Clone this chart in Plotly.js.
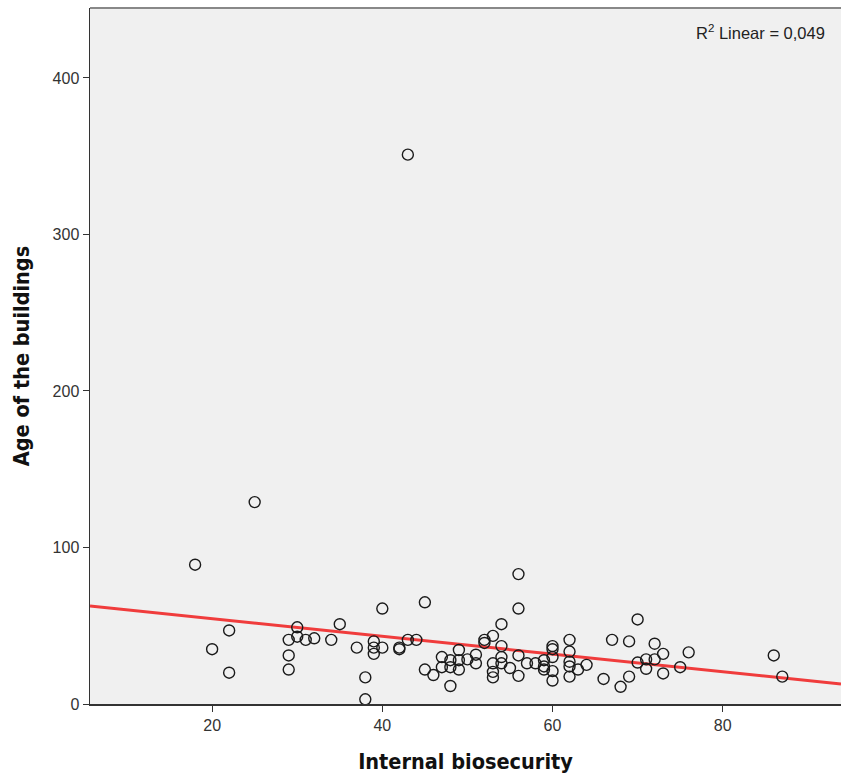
<!DOCTYPE html>
<html>
<head>
<meta charset="utf-8">
<script src="https://cdn.plot.ly/plotly-3.0.1.min.js"></script>
<style>html,body{margin:0;padding:0;background:#fff}#chart{width:841px;height:777px}</style>
</head>
<body>
<div id="chart"></div>
<script>
const biosecurity = [18,20,22,22,25,29,29,29,30,30,31,32,34,35,37,38,38,39,39,39,40,40,42,42,43,43,44,45,45,46,47,47,48,48,48,49,49,49,50,51,51,52,52,53,53,53,53,54,54,54,54,55,56,56,56,56,57,58,59,59,59,60,60,60,60,60,62,62,62,62,62,63,64,66,67,68,69,69,70,70,71,71,72,72,73,73,75,76,86,87];
const buildingAge = [89,35,47,20,129,41,31,22,49,43,41,42,41,51,36,17,3,40,36,32,36,61,36,35,41,351,41,65,22,18.5,30,23.5,11.5,28,23.5,34.5,28,22,28.5,31.5,26,41,39,43.5,26,20.5,17,51,37,30,26,23,83,61,31,18,26,26,28,24,22,37,35,30,21,15,41,33.5,27,24,17.5,22,25,16,41,11,40,17.5,54,26.5,28.5,22.5,38.5,28.5,32,19.5,23.5,33,31,17.5];
const fitX = [5.65, 93.9];
const fitY = [62.6, 12.8];
const xTicks = [20,40,60,80];
const yTicks = [0,100,200,300,400];
const r2Label = 'R<sup>2</sup> Linear = 0,049';

const titleFont = {family:'DejaVu Sans Condensed, DejaVu Sans, sans-serif', size:21.5, color:'#111', weight:'bold'};

const traces = [
  {x: fitX, y: fitY, type:'scatter', mode:'lines', line:{color:'#f03c3c', width:3}, hoverinfo:'skip'},
  {x: biosecurity, y: buildingAge, type:'scatter', mode:'markers',
   marker:{symbol:'circle-open', size:11, color:'#1a1a1a', line:{width:1.4, color:'#1a1a1a'}}}
];

const layout = {
  width:841, height:777,
  margin:{l:90, r:0, t:8, b:73},
  paper_bgcolor:'#ffffff', plot_bgcolor:'#f0f0f0',
  showlegend:false,
  font:{family:'Liberation Sans, Arial, sans-serif', color:'#333'},
  xaxis:{range:[5.65,93.9], tickvals:xTicks, ticktext:xTicks.map(String), showgrid:false, zeroline:false,
    showline:true, linecolor:'#333', linewidth:1.5, ticks:'outside', ticklen:6, tickcolor:'#333', tickwidth:1,
    tickfont:{size:16, color:'#333'},
    title:{text:'Internal biosecurity', standoff:21, font:titleFont}},
  yaxis:{range:[0,444.7], tickvals:yTicks, ticktext:yTicks.map(String), showgrid:false, zeroline:false,
    showline:true, linecolor:'#333', linewidth:1.5, ticks:'outside', ticklen:6, tickcolor:'#333', tickwidth:1,
    tickfont:{size:16, color:'#333'},
    title:{text:'Age of the buildings', standoff:17, font:titleFont}},
  shapes:[
    {type:'line', xref:'paper', yref:'paper', x0:0, x1:1, y0:1, y1:1, line:{color:'#888', width:2}}
  ],
  annotations:[
    {xref:'paper', yref:'paper', x:0.982, y:0.966, xanchor:'right', yanchor:'middle', showarrow:false,
     text:r2Label, font:{size:16.5, color:'#222'}}
  ]
};

Plotly.newPlot('chart', traces, layout, {displayModeBar:false, staticPlot:true});
</script>
</body>
</html>
